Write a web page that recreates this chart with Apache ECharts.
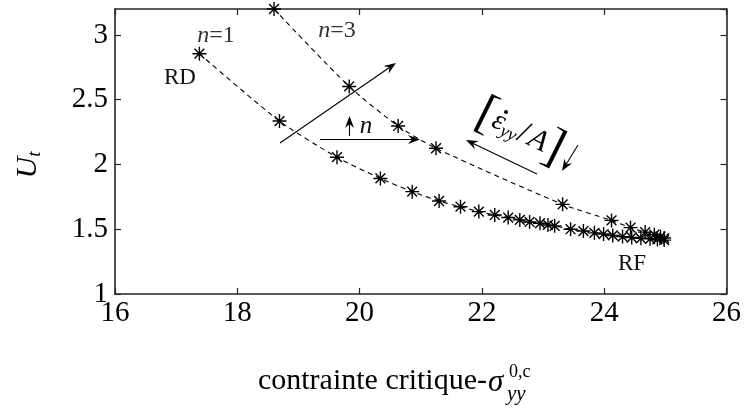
<!DOCTYPE html>
<html><head><meta charset="utf-8">
<script src="https://cdn.jsdelivr.net/npm/echarts@6/dist/echarts.min.js"></script>
<style>html,body{margin:0;padding:0;background:#fff}#c{width:744px;height:412px}</style>
</head><body><div id="c"></div>
<script>
// ---- data ----
const xTicks = [16, 18, 20, 22, 24, 26];
const yTicks = [1, 1.5, 2, 2.5, 3];
const sigmaN1 = [17.38, 18.69, 19.63, 20.34, 20.86, 21.30, 21.65, 21.95, 22.21, 22.43, 22.62, 22.78, 22.95, 23.08, 23.19, 23.45, 23.66, 23.84, 23.99, 24.14, 24.30, 24.45, 24.60, 24.75, 24.87, 24.98];
const utN1    = [2.855, 2.335, 2.056, 1.892, 1.790, 1.718, 1.674, 1.636, 1.610, 1.590, 1.572, 1.556, 1.546, 1.533, 1.526, 1.500, 1.486, 1.472, 1.463, 1.452, 1.443, 1.436, 1.430, 1.426, 1.421, 1.416];
const sigmaN3 = [18.60, 19.83, 20.63, 21.25, 23.32, 24.12, 24.43, 24.67, 24.82, 24.92, 24.98];
const utN3    = [3.200, 2.602, 2.297, 2.125, 1.692, 1.568, 1.512, 1.478, 1.458, 1.443, 1.432];

const FONT = '"Liberation Serif", "DejaVu Serif", serif';
const AX = '#262626';
const star = 'path://M0 -10 L0 10 M-10 0 L10 0 M-7 -7 L7 7 M-7 7 L7 -7';

function zip(a, b) { return a.map((v, i) => [v, b[i]]); }

function arrow(x1, y1, x2, y2) {
  const dx = x2 - x1, dy = y2 - y1, L = Math.hypot(dx, dy);
  const ux = dx / L, uy = dy / L, px = -uy, py = ux;
  const hl = 12, hw = 4.5, notch = 8;
  const bx = x2 - ux * hl, by = y2 - uy * hl;
  const nx = x2 - ux * notch, ny = y2 - uy * notch;
  return [
    { type: 'line', shape: { x1: x1, y1: y1, x2: nx, y2: ny }, style: { stroke: '#000', lineWidth: 1.1 }, z: 10 },
    { type: 'polygon', shape: { points: [[x2, y2], [bx + px * hw, by + py * hw], [nx, ny], [bx - px * hw, by - py * hw]] }, style: { fill: '#000' }, z: 10 }
  ];
}

const chart = echarts.init(document.getElementById('c'), null, { renderer: 'canvas' });

const axisCommon = {
  axisLine: { show: true, lineStyle: { color: AX, width: 1.6 } },
  axisTick: { show: true, inside: true, length: 6, lineStyle: { color: AX, width: 1.2 } },
  splitLine: { show: false }
};

const lineSeries = (name, xs, ys) => ({
  name: name, type: 'line', data: zip(xs, ys), smooth: 0.25,
  symbol: star, symbolSize: 14, symbolKeepAspect: true,
  itemStyle: { color: 'rgba(0,0,0,0)', borderColor: '#000', borderWidth: 1.4 },
  lineStyle: { color: '#000', width: 1.1, type: [5, 4] },
  clip: true, silent: true, animation: false
});

const it = (s) => Object.assign({ fontFamily: FONT, fontStyle: 'italic', fill: '#111' }, s);
const up = (s) => Object.assign({ fontFamily: FONT, fill: '#111' }, s);

const graphics = [].concat(
  arrow(280, 143, 396, 63),
  arrow(320, 139.5, 420, 139.5),
  arrow(349.5, 136, 349.5, 116),
  arrow(537, 174, 466, 140),
  arrow(578, 145, 562, 171),
  [
    { type: 'text', x: 216, y: 36, style: { text: '{i|n}{r|=1}', align: 'center', verticalAlign: 'middle', rich: { i: it({ fontSize: 24, fill: '#333' }), r: up({ fontSize: 24, fill: '#333' }) } } },
    { type: 'text', x: 337, y: 31, style: { text: '{i|n}{r|=3}', align: 'center', verticalAlign: 'middle', rich: { i: it({ fontSize: 24, fill: '#333' }), r: up({ fontSize: 24, fill: '#333' }) } } },
    { type: 'text', x: 180, y: 78, style: Object.assign({ text: 'RD', align: 'center', verticalAlign: 'middle' }, up({ fontSize: 23 })) },
    { type: 'text', x: 632, y: 264, style: Object.assign({ text: 'RF', align: 'center', verticalAlign: 'middle' }, up({ fontSize: 23 })) },
    { type: 'text', x: 366, y: 126, style: Object.assign({ text: 'n', align: 'center', verticalAlign: 'middle' }, it({ fontSize: 25 })) },
    { type: 'text', x: 520, y: 132, rotation: -0.46, style: {
      text: '{b|[}{e|ε}{s|yy}{r|/}{a|A}{b|]}', align: 'center', verticalAlign: 'middle',
      rich: {
        b: up({ fontSize: 50, fill: '#000' }),
        e: it({ fontSize: 29, fill: '#000' }),
        s: it({ fontSize: 18, fill: '#000', padding: [14, 1, 0, 0] }),
        r: up({ fontSize: 32, fill: '#000', padding: [0, 3, 0, 0] }),
        a: it({ fontSize: 30, fill: '#000' })
      } } },
    // dot over epsilon
    { type: 'circle', shape: { cx: 506, cy: 112, r: 2 }, style: { fill: '#000' }, z: 10 },
    // y axis name
    { type: 'text', x: 28, y: 165, rotation: Math.PI / 2, style: {
      text: '{u|U}{t|t}', align: 'center', verticalAlign: 'middle',
      rich: { u: it({ fontSize: 30, fill: '#000' }), t: it({ fontSize: 19, fill: '#000', padding: [14, 0, 0, 0] }) } } },
    // x axis name
    { type: 'text', x: 487, y: 381, style: Object.assign({ text: 'contrainte critique-', align: 'right', verticalAlign: 'middle' }, up({ fontSize: 30, fill: '#000' })) },
    { type: 'text', x: 488, y: 383, style: Object.assign({ text: 'σ', align: 'left', verticalAlign: 'middle' }, it({ fontSize: 31, fill: '#000' })) },
    { type: 'text', x: 509, y: 372, style: Object.assign({ text: '0,c', align: 'left', verticalAlign: 'middle' }, up({ fontSize: 18, fill: '#000' })) },
    { type: 'text', x: 507, y: 394, style: Object.assign({ text: 'yy', align: 'left', verticalAlign: 'middle' }, it({ fontSize: 21, fill: '#000' })) }
  ]
);

chart.setOption({
  animation: false,
  backgroundColor: '#fff',
  grid: { left: 115, right: 13, top: 9, bottom: 118, containLabel: false },
  xAxis: [
    Object.assign({ type: 'value', position: 'bottom', min: xTicks[0], max: xTicks[xTicks.length - 1], interval: 2,
      axisLabel: { show: true, fontFamily: FONT, fontSize: 29, color: '#000', margin: 5 } }, axisCommon),
    Object.assign({ type: 'value', position: 'top', min: xTicks[0], max: xTicks[xTicks.length - 1], interval: 2,
      axisLabel: { show: false } }, axisCommon)
  ],
  yAxis: [
    Object.assign({ type: 'value', position: 'left', min: 1, max: 3.2, interval: 0.5,
      axisLabel: { show: true, fontFamily: FONT, fontSize: 29, color: '#000', margin: 7, showMaxLabel: false,
        formatter: v => (yTicks.indexOf(+v.toFixed(2)) >= 0 ? String(+v.toFixed(2)) : '') } }, axisCommon),
    Object.assign({ type: 'value', position: 'right', min: 1, max: 3.2, interval: 0.5,
      axisLabel: { show: false } }, axisCommon)
  ],
  series: [
    lineSeries('n=1', sigmaN1, utN1),
    lineSeries('n=3', sigmaN3, utN3)
  ],
  graphic: graphics
});
</script>
</body></html>
